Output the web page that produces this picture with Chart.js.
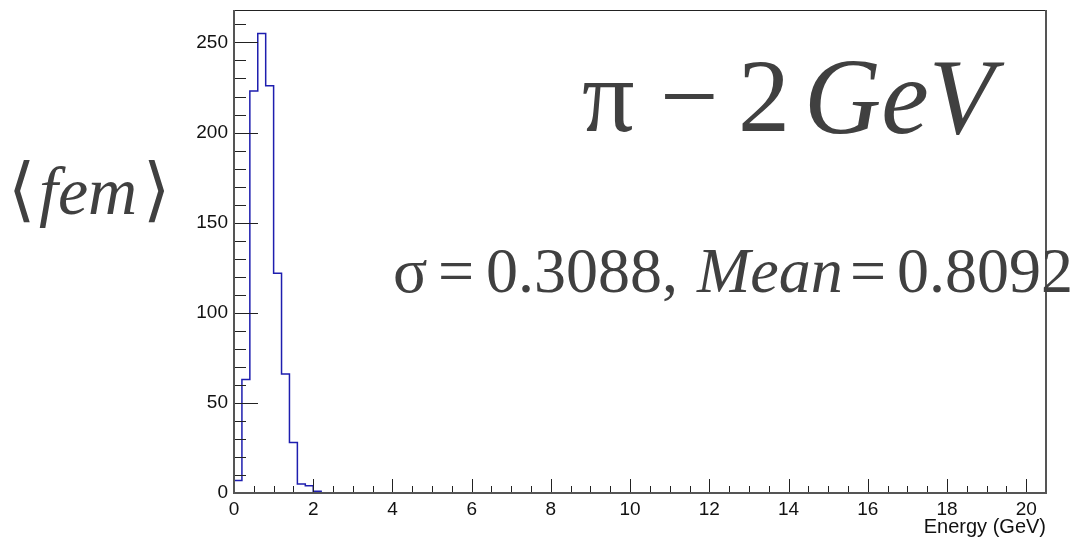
<!DOCTYPE html>
<html>
<head>
<meta charset="utf-8">
<script src="https://cdn.jsdelivr.net/npm/chart.js@4.4.1/dist/chart.umd.min.js"></script>
<style>
  html, body { margin: 0; padding: 0; background: #fff; }
  #wrap { position: relative; width: 1073px; height: 539px; overflow: hidden; }
  .tx { position: absolute; font-family: "Liberation Serif", "Times New Roman", serif; color: #404040; line-height: 1; white-space: nowrap; }
  .it { font-style: italic; }
</style>
</head>
<body>
<div id="wrap">
  <canvas id="myChart"></canvas>
  <!-- big latex-like labels -->
  <span class="tx" style="left:8px; top:154px; font-size:70px; font-family:'DejaVu Sans',sans-serif; font-weight:200;">&#10216;</span>
  <span class="tx it" style="left:39px; top:157px; font-size:68px;">fem</span>
  <span class="tx" style="left:143px; top:154px; font-size:70px; font-family:'DejaVu Sans',sans-serif; font-weight:200;">&#10217;</span>

  <span class="tx" style="left:582px; top:44px; font-size:104px;">&pi;</span>
  <span class="tx" style="left:660px; top:44px; font-size:104px;">&minus;</span>
  <span class="tx" style="left:738px; top:44px; font-size:104px;">2</span>
  <span class="tx it" style="left:804px; top:44px; font-size:107px;">GeV</span>

  <span class="tx" style="left:393px; top:239px; font-size:64px;">&sigma;</span>
  <span class="tx" style="left:438px; top:239px; font-size:64px;">=</span>
  <span class="tx" style="left:486px; top:239px; font-size:64px;">0.3088,</span>
  <span class="tx it" style="left:697px; top:239px; font-size:64px;">Mean</span>
  <span class="tx" style="left:850px; top:239px; font-size:64px;">=</span>
  <span class="tx" style="left:897px; top:239px; font-size:64px;">0.8092</span>
</div>
<script>
// histogram, 0.2 GeV bins
var binEdges = [0, 0.2, 0.4, 0.6, 0.8, 1.0, 1.2, 1.4, 1.6, 1.8, 2.0, 2.2];
var counts   = [7, 63, 223, 255, 226, 122, 66, 28, 5, 4, 1];
var xTitle = 'Energy (GeV)';

// outline points: left edge of each bin, closing at 0
var pts = [{x: binEdges[0], y: 0}];
for (var i = 0; i < counts.length; i++) {
    pts.push({x: binEdges[i], y: counts[i]});
}
pts.push({x: binEdges[binEdges.length - 1], y: 0});

// ROOT style frame and inside tick marks
var rootFrame = {
    id: 'rootFrame',
    afterDatasetsDraw: function(chart) {
        var ctx = chart.ctx, a = chart.chartArea;
        var x = chart.scales.x, y = chart.scales.y;
        ctx.save();
        ctx.strokeStyle = '#222';
        ctx.lineWidth = 1;
        ctx.beginPath();
        //y ticks
        for (var v = 0; v <= y.max; v += 10) {
            var py = Math.round(y.getPixelForValue(v)) + 0.5;
            var len = (v % 50 === 0) ? 24 : 12;
            ctx.moveTo(a.left, py);
            ctx.lineTo(a.left + len, py);
        }
        //x ticks
        for (var k = 0; k * 0.5 <= x.max; k++) {
            var px = Math.round(x.getPixelForValue(k * 0.5)) + 0.5;
            var l2 = (k % 4 === 0) ? 14 : 7;
            ctx.moveTo(px, a.bottom);
            ctx.lineTo(px, a.bottom - l2);
        }
        ctx.stroke();
        // top edge thin
        ctx.beginPath();
        ctx.moveTo(a.left, a.top + 0.5);
        ctx.lineTo(a.right, a.top + 0.5);
        ctx.stroke();
        // left, bottom, right thicker grey
        ctx.strokeStyle = '#555';
        ctx.lineWidth = 2;
        ctx.beginPath();
        ctx.moveTo(a.left, a.top);
        ctx.lineTo(a.left, a.bottom);
        ctx.lineTo(a.right, a.bottom);
        ctx.lineTo(a.right, a.top);
        ctx.stroke();
        ctx.restore();
    }
};

var ctx = document.getElementById('myChart').getContext('2d');
var myChart = new Chart(ctx, {
    type: 'line',
    data: {
        datasets: [{
            data: pts,
            stepped: 'before',
            borderColor: 'rgb(30,30,175)',
            borderWidth: 1.5,
            pointRadius: 0,
            fill: false,
            clip: 4
        }]
    },
    options: {
        responsive: true,
        maintainAspectRatio: false,
        animation: false,
        layout: { padding: { left: 0, right: 27, top: 10, bottom: 0 } },
        plugins: { legend: { display: false }, tooltip: { enabled: false } },
        scales: {
            x: {
                type: 'linear',
                min: 0,
                max: 20.5,
                grid: { display: false, drawTicks: false },
                border: { display: false },
                ticks: {
                    stepSize: 2,
                    includeBounds: false,
                    maxRotation: 0,
                    padding: 5,
                    color: '#111',
                    font: { family: 'Liberation Sans', size: 19 }
                },
                title: {
                    display: true,
                    text: xTitle,
                    align: 'end',
                    color: '#111',
                    padding: { top: 0, bottom: 0 },
                    font: { family: 'Liberation Sans', size: 20 }
                },
                afterFit: function(s) {
                    s.height = 46;
                    s.paddingLeft = 0;
                    s.paddingRight = 0;
                }
            },
            y: {
                min: 0,
                max: 268,
                grid: { display: false, drawTicks: false },
                border: { display: false },
                ticks: {
                    stepSize: 50,
                    includeBounds: false,
                    padding: 6,
                    color: '#111',
                    font: { family: 'Liberation Sans', size: 19 }
                },
                afterFit: function(s) {
                    s.width = 234;
                    s.paddingTop = 0;
                    s.paddingBottom = 0;
                }
            }
        }
    },
    plugins: [rootFrame]
});
</script>
</body>
</html>
